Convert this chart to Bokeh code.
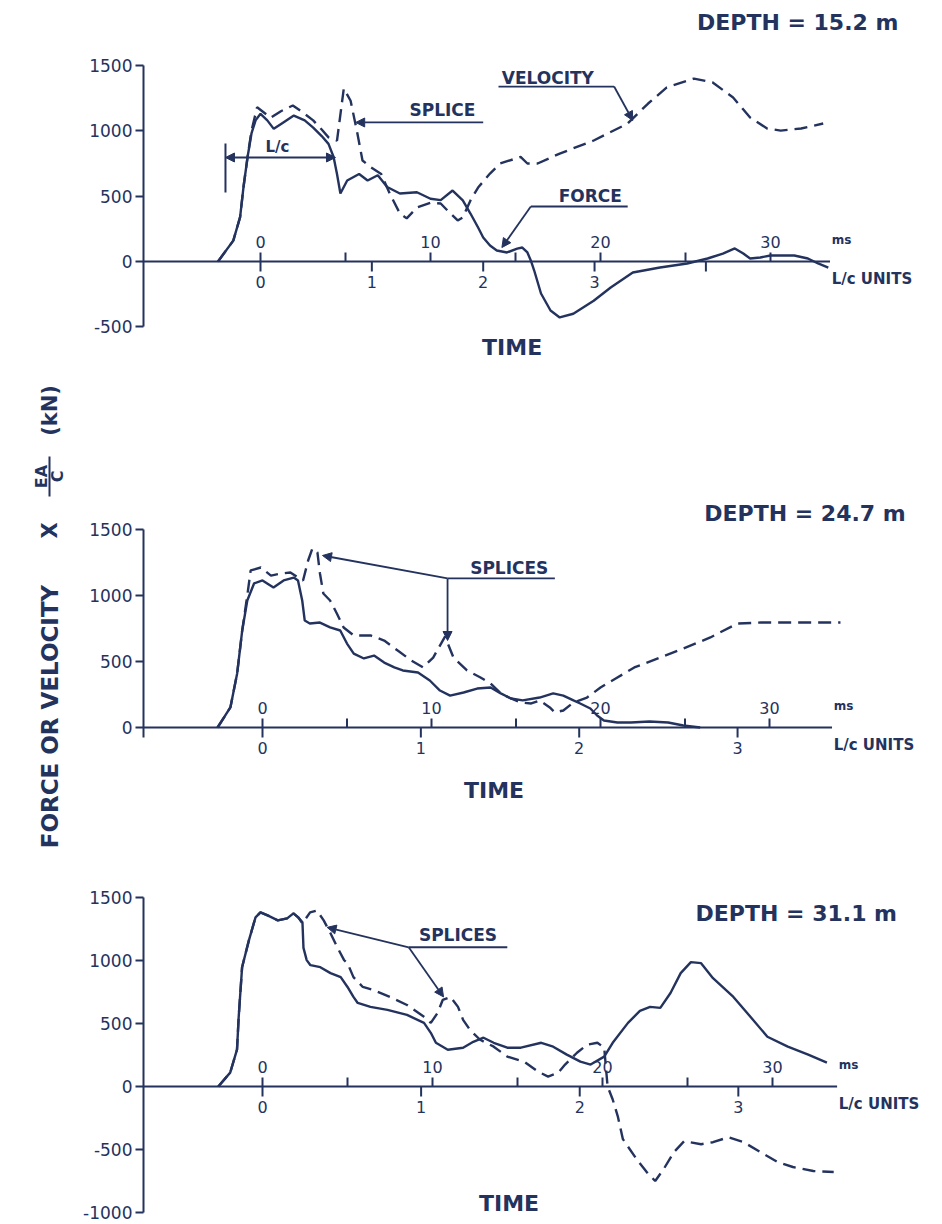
import math
from bokeh.plotting import figure
from bokeh.models import Range1d, LinearAxis, FixedTicker, Arrow, NormalHead, PrintfTickFormatter
from bokeh.layouts import row, column
from bokeh.core.properties import value
from bokeh.embed import file_html
from bokeh.resources import INLINE

INK = "#24335e"
FONT = "DejaVu Sans"

# ---------------- data ----------------
ms_ticks = [0, 5, 10, 15, 20, 25, 30]
ms_labels = ["0", "", "10", "", "20", "", "30"]
lc_ticks_1 = [0, 1, 2, 3, 4]
lc_labels_1 = ["0", "1", "2", "3", ""]
lc_ticks_23 = [0, 1, 2, 3]
lc_labels_23 = ["0", "1", "2", "3"]
lc_ms = [6.55, 9.37, 9.33]          # ms per L/c unit, panels 1-3
depths = ["DEPTH = 15.2 m", "DEPTH = 24.7 m", "DEPTH = 31.1 m"]
y_ticks_1 = [-500, 0, 500, 1000, 1500]
y_ticks_2 = [0, 500, 1000, 1500]
y_ticks_3 = [-1000, -500, 0, 500, 1000, 1500]

# Depth 15.2 m
force1_t = [-2.5, -1.6, -1.2, -1.0, -0.76, -0.53, -0.29, 0.0, 0.4, 0.78, 1.3, 1.96, 2.6, 3.1, 3.6,
            4.0, 4.3, 4.5, 4.7, 5.1, 5.8, 6.3, 6.9, 7.45, 8.2, 9.2, 10.0, 10.6, 11.3, 11.9, 12.35,
            12.8, 13.1, 13.5, 13.9, 14.5, 15.1, 15.4, 15.7, 15.9, 16.1, 16.5, 17.06, 17.6, 18.4,
            19.6, 20.6, 21.9, 23.5, 25.1, 26.3, 27.2, 27.9, 28.4, 28.8, 29.4, 30.0, 31.4, 32.2,
            32.8, 33.4]
force1_v = [0, 160, 340, 570, 800, 980, 1080, 1130, 1080, 1015, 1060, 1117, 1080, 1025, 960,
            900, 800, 670, 520, 620, 670, 620, 660, 570, 520, 530, 480, 470, 543, 467, 367,
            260, 184, 122, 84, 69, 99, 107, 69, 8, -69, -245, -375, -428, -400,
            -300, -199, -84, -46, -15, 23, 61, 100, 61, 23, 31, 46, 46, 23,
            -15, -46]
vel1_t = [-2.5, -1.6, -1.2, -1.0, -0.76, -0.53, -0.2, 0.2, 0.6, 1.2, 1.9, 2.5, 3.1, 3.6, 4.0,
          4.5, 4.9, 5.3, 5.7, 6.0, 6.5, 7.1, 7.6, 8.2, 8.6, 9.2, 10.0, 10.6, 11.0, 11.6, 11.9,
          12.35, 12.8, 13.5, 14.1, 15.3, 15.7, 16.3, 17.6, 19.6, 21.6, 22.8, 23.9, 25.5, 26.6,
          27.8, 28.8, 29.8, 30.6, 31.8, 33.1]
vel1_v = [0, 160, 340, 570, 800, 1000, 1180, 1140, 1100, 1150, 1194, 1140, 1080, 1010, 950,
          925, 1324, 1230, 980, 773, 720, 670, 520, 367, 330, 413, 450, 444, 390, 314, 337,
          467, 566, 673, 750, 800, 750, 750, 826, 926, 1056, 1209, 1332, 1400, 1370,
          1255, 1102, 1018, 1002, 1018, 1056]

# Depth 24.7 m
force2_t = [-2.66, -1.9, -1.5, -1.2, -0.9, -0.5, 0.0, 0.65, 1.25, 1.85, 2.1, 2.35, 2.5, 2.8, 3.4,
            4.0, 4.6, 5.0, 5.4, 6.0, 6.6, 7.2, 7.8, 8.3, 9.2, 9.9, 10.5, 11.1, 11.9, 12.7, 13.5,
            14.1, 14.7, 15.4, 16.4, 17.2, 17.8, 18.4, 18.8, 19.4, 19.8, 20.2, 21.0, 21.8, 22.9,
            24.0, 24.9, 25.9]
force2_v = [0, 152, 409, 735, 962, 1091, 1114, 1061, 1114, 1136, 1114, 962, 810, 788, 795,
            758, 735, 636, 560, 523, 545, 492, 455, 432, 417, 356, 280, 242, 265, 295, 303,
            258, 220, 205, 227, 258, 242, 205, 182, 144, 91, 53, 38, 38, 45,
            38, 15, 0]
vel2_t = [-2.66, -1.9, -1.5, -1.2, -0.9, -0.7, -0.1, 0.5, 1.1, 1.65, 2.1, 2.4, 2.7, 2.95, 3.25,
          3.4, 3.6, 4.0, 4.4, 4.8, 5.4, 6.4, 7.2, 8.0, 8.8, 9.5, 10.1, 10.8, 11.3, 12.1, 12.9,
          13.5, 14.1, 14.7, 15.3, 15.9, 16.4, 17.0, 17.3, 17.8, 18.4, 19.2, 20.0, 21.0, 22.0,
          24.6, 26.5, 28.1, 29.5, 31.4, 34.2]
vel2_v = [0, 152, 409, 735, 1000, 1190, 1212, 1151, 1167, 1174, 1136, 1114, 1265, 1356, 1326,
          1167, 1015, 962, 864, 758, 697, 697, 659, 583, 508, 455, 530, 689, 530, 432, 379,
          333, 258, 220, 189, 182, 205, 152, 114, 129, 189, 227, 303, 379, 455,
          583, 682, 788, 795, 795, 795]

# Depth 31.1 m
force3_t = [-2.6, -1.9, -1.5, -1.4, -1.2, -0.8, -0.41, -0.12, 0.3, 0.9, 1.45, 1.82, 2.1, 2.35,
            2.41, 2.6, 2.82, 3.4, 4.0, 4.6, 5.0, 5.35, 5.6, 6.35, 7.35, 8.5, 9.5, 9.9, 10.2,
            10.9, 11.8, 12.4, 13.0, 13.6, 14.4, 15.2, 16.4, 17.1, 17.9, 18.7, 19.3, 20.1, 20.6,
            21.5, 22.2, 22.8, 23.4, 24.0, 24.6, 25.2, 25.8, 26.5, 27.7, 28.7, 29.7, 30.9, 32.1,
            33.2]
force3_v = [0, 110, 292, 553, 947, 1160, 1342, 1382, 1358, 1318, 1334, 1374, 1342, 1303,
            1100, 1003, 963, 947, 900, 868, 790, 711, 663, 632, 608, 568, 505, 426, 347,
            292, 308, 355, 387, 347, 308, 308, 347, 316, 253, 197, 174, 237, 347,
            505, 600, 632, 624, 742, 900, 987, 979, 860, 711, 553, 395, 316, 253,
            189]
vel3_t = [-2.6, -1.9, -1.5, -1.4, -1.2, -0.8, -0.41, -0.12, 0.3, 0.9, 1.45, 1.82, 2.1, 2.35,
          2.8, 3.2, 3.6, 4.0, 4.4, 4.8, 5.0, 5.35, 5.9, 6.5, 7.5, 8.5, 9.5, 9.9, 10.3, 10.6,
          11.06, 11.5, 11.8, 12.2, 12.8, 13.6, 14.4, 15.4, 16.2, 16.8, 17.4, 17.8, 18.5, 19.1,
          19.7, 20.1, 20.3, 20.6, 20.9, 21.2, 22.0, 22.6, 23.1, 23.6, 24.2, 24.8, 25.8, 26.5,
          27.4, 28.3, 29.3, 30.3, 31.2, 32.4, 33.6]
vel3_v = [0, 110, 292, 553, 947, 1160, 1342, 1382, 1358, 1318, 1334, 1374, 1342, 1295,
          1382, 1397, 1318, 1216, 1105, 1003, 979, 868, 790, 766, 711, 647, 553, 505, 584, 687,
          711, 632, 529, 450, 371, 316, 237, 197, 118, 79, 110, 174, 268, 332,
          347, 308, 0, -103, -237, -418, -576, -679, -750, -655, -521, -434, -458, -442,
          -403, -442, -521, -600, -639, -671, -679]

# ---------------- layout helpers ----------------
TOTAL_H = 1222
LAB_W = 68
PAGE_RIGHT = 940
BORDER_LEFT = 75


def make_panel(top, height, x0, pxms, y0, pxkn, yticks, ybounds):
    fl = LAB_W + BORDER_LEFT
    xr = Range1d((fl - x0) / pxms, (PAGE_RIGHT - x0) / pxms)
    yr = Range1d((y0 - (top + height)) / pxkn, (y0 - top) / pxkn)
    p = figure(width=PAGE_RIGHT - LAB_W, height=height, x_range=xr, y_range=yr,
               x_axis_type=None, y_axis_type=None, toolbar_location=None,
               output_backend="svg", title=None, min_border_left=BORDER_LEFT,
               min_border_right=0, min_border_top=0, min_border_bottom=0)
    p.outline_line_color = None
    p.background_fill_color = "white"
    p.border_fill_color = "white"
    ax = LinearAxis(ticker=FixedTicker(ticks=yticks), bounds=ybounds,
                    formatter=PrintfTickFormatter(format="%d"))
    ax.axis_line_color = INK
    ax.axis_line_width = 2
    ax.major_tick_line_color = INK
    ax.major_tick_line_width = 2
    ax.major_tick_out = 8
    ax.major_tick_in = 0
    ax.minor_tick_out = 0
    ax.minor_tick_in = 0
    ax.major_label_standoff = 3
    ax.major_label_text_font = FONT
    ax.major_label_text_font_size = "17px"
    ax.major_label_text_color = INK
    p.add_layout(ax, "left")
    return p


def time_axis(p, pxkn, lc_f, lc_ticks, lc_labels, x_end):
    k = 1.0 / pxkn
    p.segment(x0=[p.x_range.start], y0=[0], x1=[x_end], y1=[0], line_color=INK, line_width=2)
    p.segment(x0=ms_ticks, y0=[0] * len(ms_ticks), x1=ms_ticks, y1=[9 * k] * len(ms_ticks),
              line_color=INK, line_width=2)
    lcx = [v * lc_f for v in lc_ticks]
    p.segment(x0=lcx, y0=[0] * len(lcx), x1=lcx, y1=[-10 * k] * len(lcx),
              line_color=INK, line_width=2)
    p.text(x=ms_ticks, y=[20 * k] * len(ms_ticks), text=ms_labels, text_font=value(FONT),
           text_font_size="16px", text_color=INK, text_align="center", text_baseline="middle")
    p.text(x=lcx, y=[-20 * k] * len(lcx), text=lc_labels, text_font=value(FONT),
           text_font_size="16px", text_color=INK, text_align="center", text_baseline="middle")
    p.text(x=[x_end + 0.1], y=[22 * k], text=["ms"], text_font=value(FONT),
           text_font_size="12px", text_font_style="bold", text_color=INK,
           text_align="left", text_baseline="middle")
    p.text(x=[x_end + 0.1], y=[-17 * k], text=["L/c  UNITS"], text_font=value(FONT),
           text_font_size="15px", text_font_style="bold", text_color=INK,
           text_align="left", text_baseline="middle")


def label(p, x, y, txt, size="17px", align="center"):
    p.text(x=[x], y=[y], text=[txt], text_font=value(FONT), text_font_size=size,
           text_font_style="bold", text_color=INK, text_align=align, text_baseline="middle")


def arrow(p, xs, ys, xe, ye, both=False):
    head = dict(size=9, fill_color=INK, line_color=INK, line_width=1)
    p.add_layout(Arrow(start=NormalHead(**head) if both else None, end=NormalHead(**head),
                       x_start=xs, y_start=ys, x_end=xe, y_end=ye,
                       line_color=INK, line_width=1.8))


def curves(p, ft, fv, vt, vv):
    p.line(vt, vv, line_color=INK, line_width=2.4, line_dash="13 7")
    p.line(ft, fv, line_color=INK, line_width=2.4)


# ---------------- panel 1 ----------------
p1 = make_panel(0, 405, 260, 17.0, 261, 196 / 1500, y_ticks_1, (-500, 1500))
time_axis(p1, 196 / 1500, lc_ms[0], lc_ticks_1, lc_labels_1, 33.5)
curves(p1, force1_t, force1_v, vel1_t, vel1_v)
label(p1, 31.6, 1829, depths[0], "22px")
label(p1, 14.8, -658, "TIME", "22px")
label(p1, 10.7, 1156, "SPLICE")
arrow(p1, 13.1, 1064, 5.6, 1064)
label(p1, 16.9, 1408, "VELOCITY")
p1.segment(x0=[14.0], y0=[1339], x1=[20.8], y1=[1339], line_color=INK, line_width=1.8)
arrow(p1, 20.8, 1339, 21.9, 1079)
label(p1, 19.4, 505, "FORCE")
p1.segment(x0=[15.9], y0=[421], x1=[21.6], y1=[421], line_color=INK, line_width=1.8)
arrow(p1, 15.9, 421, 14.2, 107)
p1.segment(x0=[-2.06], y0=[528], x1=[-2.06], y1=[903], line_color=INK, line_width=2)
arrow(p1, -2.06, 796, 4.41, 796, both=True)
label(p1, 1.0, 880, "L/c", "15px")

# ---------------- panel 2 ----------------
p2 = make_panel(405, 440, 262, 16.9, 727, 198 / 1500, y_ticks_2, (-75, 1500))
time_axis(p2, 198 / 1500, lc_ms[1], lc_ticks_23, lc_labels_23, 33.7)
curves(p2, force2_t, force2_v, vel2_t, vel2_v)
label(p2, 32.1, 1621, depths[1], "22px")
label(p2, 13.7, -477, "TIME", "22px")
label(p2, 14.6, 1212, "SPLICES")
p2.segment(x0=[10.95], y0=[1129], x1=[17.3], y1=[1129], line_color=INK, line_width=1.8)
arrow(p2, 10.95, 1129, 3.55, 1303)
arrow(p2, 10.95, 1129, 10.95, 659)

# ---------------- panel 3 ----------------
PX3 = 0.126
p3 = make_panel(845, TOTAL_H - 845, 262, 17.0, 1086, PX3, y_ticks_3, (-1000, 1500))
time_axis(p3, PX3, lc_ms[2], lc_ticks_23, lc_labels_23, 33.8)
curves(p3, force3_t, force3_v, vel3_t, vel3_v)
label(p3, 31.4, 1373, depths[2], "22px")
label(p3, 14.5, -931, "TIME", "22px")
label(p3, 11.5, 1200, "SPLICES")
p3.segment(x0=[8.6], y0=[1105], x1=[14.4], y1=[1105], line_color=INK, line_width=1.8)
arrow(p3, 8.6, 1105, 3.8, 1263)
arrow(p3, 8.6, 1105, 10.65, 711)

# ---------------- shared y label ----------------
lab = figure(width=LAB_W, height=TOTAL_H, x_range=Range1d(0, LAB_W), y_range=Range1d(TOTAL_H, 0),
             x_axis_type=None, y_axis_type=None, toolbar_location=None,
             output_backend="svg", title=None, min_border=0)
lab.outline_line_color = None
rot = math.pi / 2
for txt, x, y, sz in [("FORCE OR VELOCITY", 49, 716, "23px"), ("X", 49, 530, "21px"),
                      ("EA", 41, 476, "16px"), ("C", 57, 476, "16px"), ("(kN)", 49, 410, "21px")]:
    lab.text(x=[x], y=[y], text=[txt], angle=rot, text_font=value(FONT), text_font_size=sz,
             text_font_style="bold", text_color=INK, text_align="center",
             text_baseline="middle")
lab.segment(x0=[49], y0=[456], x1=[49], y1=[496], line_color=INK, line_width=2)

layout = row(lab, column(p1, p2, p3))
open("out.html", "w").write(file_html(layout, INLINE))
